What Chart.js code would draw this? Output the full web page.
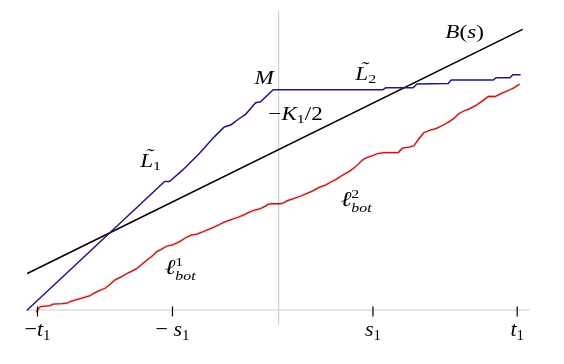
<!DOCTYPE html>
<html><head><meta charset="utf-8">
<script src="https://cdn.jsdelivr.net/npm/chart.js@4"></script>
<style>html,body{margin:0;padding:0;background:#fff}#wrap{width:564px;height:364px}</style>
</head><body><div id="wrap"><canvas id="c" width="564" height="364"></canvas></div>
<script>
// x: horizontal position along the s-axis (figure units), y: height above the s-axis
const tickPositions = [32, 170, 375, 522.5];
const tickLabels = [
  [{t:"−",f:"trm"},{t:"t",f:"tit"},{t:"1",f:"ts",dy:4}],
  [{t:"− ",f:"trm"},{t:"s",f:"tit"},{t:"1",f:"ts",dy:4}],
  [{t:"s",f:"tit"},{t:"1",f:"ts",dy:4}],
  [{t:"t",f:"tit"},{t:"1",f:"ts",dy:4}]
];
const axisX = [22, 535];
const centerX = 278.5;
const centerY = [309, -16];

const bLineX = [21.5, 528];
const bLineY = [37.3, 290];

const blueX = [21,162,167,180,197,213,223,230,237,245,255,260,273,385,388,416,420,452,455,498,501,515,518,526];
const blueY = [-1,132.5,132.5,144,161,179,189,191.3,196.7,202.3,214,215,227.5,227.5,229.5,229.5,233.5,234,237.5,237.5,240,240,243,243];

const redX = [31,33,35,45,48,57,62,66,73,80,85,90,94,101,106,111,118,123,127,133,140,145,150,154,158,164,170,177,183,189,195,200,207,213,218,223,230,237,243,248,254,260,265,268,272,280,283,287,293,300,307,313,320,327,332,337,343,350,355,360,364,368,374,380,386,401,405,412,417,421,427,433,440,447,453,458,463,468,473,480,487,493,500,507,515,520,525];
const redY = [-3,1,3,4,5.5,6,6.5,8.5,10.5,12.5,14,17,19,22,26,30.5,34,37,39,42,48,52,56,60,62,65.5,67,70,74,77,78,80,83,85.5,88,90.5,93,95.5,98,100.5,103,104.5,107,109,109.5,109.5,110,112.5,114.5,117,120,122.5,126.5,129,132,134.5,138.5,142.5,146,150.5,154.5,157,159,161.5,162.5,162.5,167,168,169.5,175.5,183,185.5,187.5,191,194.5,198,203,205.5,207.5,211,216,220.5,220.5,224,227.5,230,233.5];

const annotations = [
  {x:449, y:281, runs:[{t:"B",f:"it"},{t:"(",f:"rm"},{t:"s",f:"it"},{t:")",f:"rm"}]},
  {x:254, y:233.5, runs:[{t:"M",f:"it"}]},
  {x:357, y:238, runs:[{t:"L",f:"it"},{t:"˜",f:"it",accent:true,dx:-6.5,dy:-5},{t:"2",f:"s",dy:3}]},
  {x:268, y:196, runs:[{t:"−",f:"rm"},{t:"K",f:"it"},{t:"1",f:"s",dy:3},{t:"/2",f:"rm"}]},
  {x:137, y:148, runs:[{t:"L",f:"it"},{t:"˜",f:"it",accent:true,dx:-6.5,dy:-5},{t:"1",f:"s",dy:3}]},
  {x:162, y:37, runs:[{t:"ℓ",f:"ell"},{t:"1",f:"s",dy:-8},{t:"bot",f:"sit",dy:6,stack:true}]},
  {x:342, y:107, runs:[{t:"ℓ",f:"ell"},{t:"2",f:"s",dy:-8},{t:"bot",f:"sit",dy:6,stack:true}]}
];

const FONTS = {
  it:'italic 19px "Liberation Serif"', rm:'19px "Liberation Serif"',
  s:'13px "Liberation Serif"', sit:'italic 13px "Liberation Serif"',
  ell:'italic 21px "Liberation Serif"',
  tit:'italic 22px "Liberation Serif"', trm:'22px "Liberation Serif"', ts:'15px "Liberation Serif"'
};

function layoutRuns(ctx, runs, draw){
  let x=0, prevStart=0;
  for(const r of runs){
    ctx.font = FONTS[r.f];
    const start = r.stack ? prevStart : x + (r.dx||0);
    if(draw) ctx.fillText(r.t, start, r.dy||0);
    const w = ctx.measureText(r.t).width;
    if(r.accent) continue;
    prevStart = start; x = Math.max(x, start + w);
  }
  return x;
}
function drawRuns(ctx, x0, y0, runs, sx){
  ctx.save(); ctx.translate(x0, y0); ctx.scale(sx, 1);
  layoutRuns(ctx, runs, true);
  ctx.restore();
}

const textPlugin = {
  id:'mathText',
  afterDatasetsDraw(chart){
    const ctx = chart.ctx, xs = chart.scales.x, ys = chart.scales.y;
    ctx.save();
    ctx.fillStyle = '#000'; ctx.textBaseline = 'alphabetic'; ctx.textAlign = 'left';
    tickPositions.forEach((p,i)=>{
      const w = layoutRuns(ctx, tickLabels[i], false);
      drawRuns(ctx, xs.getPixelForValue(p) - w/2, ys.getPixelForValue(-27), tickLabels[i], 1);
    });
    annotations.forEach(a=>{
      drawRuns(ctx, xs.getPixelForValue(a.x), ys.getPixelForValue(a.y), a.runs, 1.22);
    });
    ctx.restore();
  }
};

const pts = (xs, ys) => xs.map((x,i)=>({x, y: ys[i]}));

new Chart(document.getElementById('c'), {
  type:'line',
  data:{datasets:[
    {data: pts(axisX, [-0.5,-0.5]), borderColor:'#cccccc', borderWidth:1, pointRadius:0, order:10},
    {data: pts([centerX,centerX], centerY), borderColor:'#d0d0d0', borderWidth:1, pointRadius:0, order:10},
    {data: pts(bLineX, bLineY), borderColor:'#000', borderWidth:1.6, pointRadius:0, order:5},
    {data: pts(redX, redY), borderColor:'rgba(230,90,90,0.2)', borderWidth:3.5, pointRadius:0, order:4},
    {data: pts(redX, redY), borderColor:'#b01c1c', borderWidth:1.3, pointRadius:0, order:3},
    {data: pts(blueX, blueY), borderColor:'#1a1a86', borderWidth:1.5, pointRadius:0, order:2},
    {data: tickPositions.map(p=>({x:p, y:-2})), showLine:false, pointStyle:'line', rotation:90, pointRadius:5, pointBorderColor:'#000', pointBorderWidth:1.2, order:1}
  ]},
  options:{
    responsive:false, animation:false, events:[],
    layout:{padding:0},
    clip:false,
    plugins:{legend:{display:false}, tooltip:{enabled:false}},
    scales:{
      x:{type:'linear', min:0, max:564, display:false},
      y:{type:'linear', min:-50, max:314, display:false}
    }
  },
  plugins:[textPlugin]
});
</script></body></html>
